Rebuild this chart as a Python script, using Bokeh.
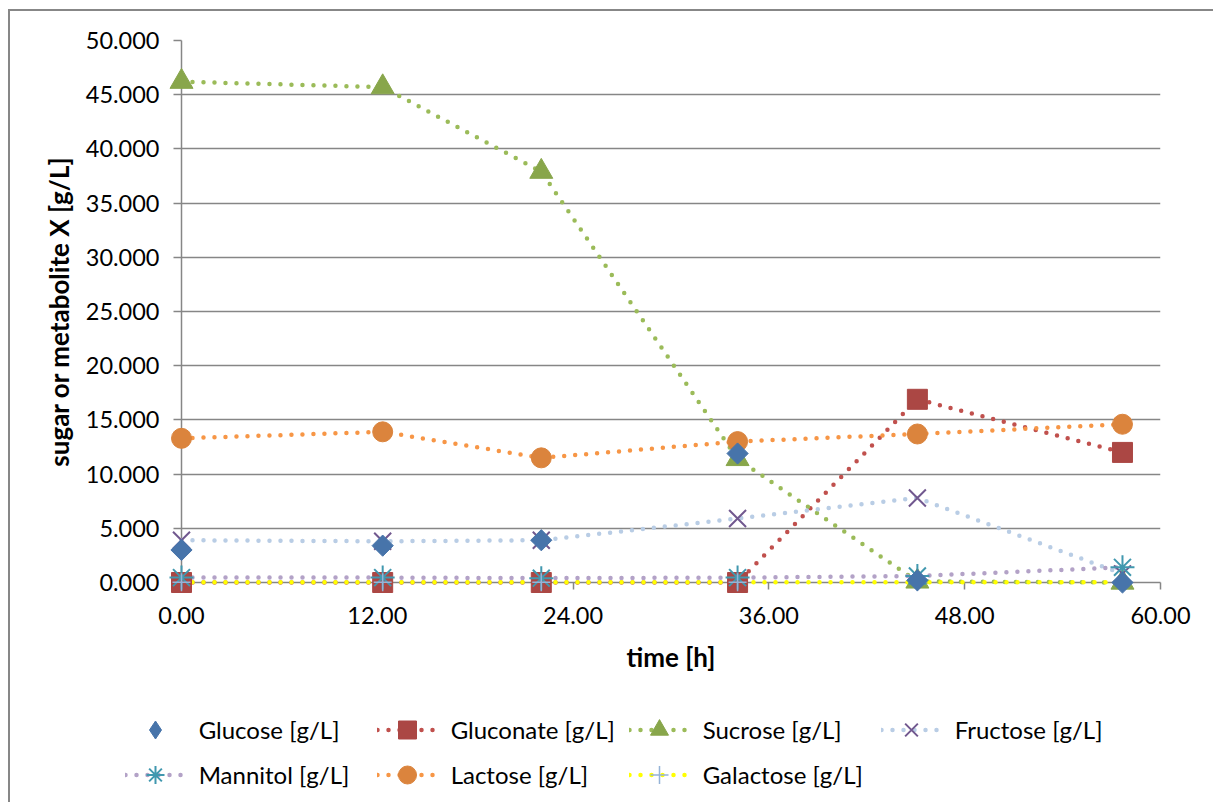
import math
from bokeh.plotting import figure
from bokeh.layouts import column
from bokeh.models import FixedTicker, NumeralTickFormatter, Legend, LegendItem, Range1d
from bokeh.embed import file_html
from bokeh.resources import INLINE

# ---- data ----
time_h = [0.0, 12.33, 22.05, 34.08, 45.1, 57.67]
glucose = [3.0, 3.4, 3.9, 11.9, 0.2, 0.0]
gluconate = [0.0, 0.0, 0.0, 0.0, 16.9, 12.0]
sucrose = [46.2, 45.7, 37.9, 11.4, 0.1, 0.0]
fructose = [3.9, 3.8, 3.9, 5.9, 7.8, 0.8]
mannitol = [0.45, 0.45, 0.4, 0.45, 0.6, 1.4]
lactose = [13.3, 13.9, 11.5, 13.0, 13.7, 14.6]
galactose = [0.02, 0.02, 0.02, 0.02, 0.02, 0.02]

x_ticks = [0, 12, 24, 36, 48, 60]
y_ticks = [0, 5, 10, 15, 20, 25, 30, 35, 40, 45, 50]

labels = ["Glucose [g/L]", "Gluconate [g/L]", "Sucrose [g/L]", "Fructose [g/L]",
          "Mannitol [g/L]", "Lactose [g/L]", "Galactose [g/L]"]

FONT = "Lato"
GRID = "#868686"

p = figure(frame_width=979, frame_height=542,
           min_border_left=171, min_border_top=29, min_border_right=53, min_border_bottom=108,
           x_range=Range1d(0, 60), y_range=Range1d(0, 50),
           output_backend="svg", toolbar_location=None)
p.outline_line_color = None
p.background_fill_color = "white"
p.border_fill_color = "white"

p.xaxis.ticker = FixedTicker(ticks=x_ticks)
p.yaxis.ticker = FixedTicker(ticks=y_ticks)
p.xaxis.formatter = NumeralTickFormatter(format="0.00")
p.yaxis.formatter = NumeralTickFormatter(format="0.000")
for ax in (p.xaxis, p.yaxis):
    ax.axis_line_color = GRID
    ax.axis_line_width = 1.5
    ax.major_tick_line_color = GRID
    ax.major_tick_line_width = 1.5
    ax.minor_tick_line_color = None
    ax.major_tick_in = 0
    ax.major_label_text_font = FONT
    ax.major_label_text_font_size = "23.5px"
    ax.major_label_text_color = "black"
    ax.axis_label_text_font = FONT
    ax.axis_label_text_font_style = "bold"
    ax.axis_label_text_font_size = "26px"
    ax.axis_label_text_color = "black"
p.xaxis.major_tick_out = 7
p.yaxis.major_tick_out = 8
p.xaxis.major_label_standoff = 17
p.yaxis.major_label_standoff = 14
p.xaxis.axis_label = "time [h]"
p.yaxis.axis_label = "sugar or metabolite X [g/L]"
p.xaxis.axis_label_standoff = 14
p.yaxis.axis_label_standoff = 8

p.xgrid.grid_line_color = None
p.ygrid.grid_line_color = GRID
p.ygrid.grid_line_width = 1.5

DOT = dict(line_width=4.5, line_dash="0 11", line_cap="round")

# series spec: (values, line colour or None, marker, marker colour, size, filled, marker line width, angle)
specs = [
    (glucose, None, "square", "#4774AA", 15, True, 1, math.pi / 4),
    (gluconate, "#C0504D", "square", "#AB4744", 20, True, 1, 0),
    (sucrose, "#9BBB59", "triangle", "#88A64B", 23, True, 1, 0),
    (fructose, "#B9CDE5", "x", "#71588F", 24, False, 2, 0),
    (mannitol, "#B3A2C7", "asterisk", "#4198AF", 24, False, 2, 0),
    (lactose, "#F79646", "circle", "#DB843D", 20, True, 1, 0),
    (galactose, "#FFFF00", "cross", "#95B3D7", 18, False, 1.5, 0),
]

for vals, lc, *_ in specs:
    if lc is not None:
        p.line(time_h, vals, line_color=lc, level="annotation", **DOT)

order = [1, 2, 3, 4, 5, 6, 0]  # glucose diamonds are drawn on top
for i in order:
    vals, lc, mk, mc, sz, filled, mlw, ang = specs[i]
    p.scatter(time_h, vals, marker=mk, size=sz, angle=ang,
              fill_color=mc if filled else None, line_color=mc,
              line_width=mlw, level="annotation")

# ---- legend strip below the chart: same series drawn outside its visible range ----
lg = figure(frame_width=1090, frame_height=90, min_border_left=113, min_border_right=0,
            min_border_top=17, min_border_bottom=5,
            x_range=Range1d(1000, 1001), y_range=Range1d(1000, 1001),
            x_axis_location=None, y_axis_location=None,
            output_backend="svg", toolbar_location=None)
lg.outline_line_color = None
lg.xgrid.grid_line_color = None
lg.ygrid.grid_line_color = None

items = []
for i, lab in enumerate(labels):
    vals, lc, mk, mc, sz, filled, mlw, ang = specs[i]
    if i == 0:
        mk, ang = "diamond", 0  # tall diamond in the legend
    rs = []
    if lc is not None:
        rs.append(lg.line(time_h, vals, line_color=lc, **DOT))
    rs.append(lg.scatter(time_h, vals, marker=mk, size=sz, angle=ang,
                         fill_color=mc if filled else None, line_color=mc, line_width=mlw))
    items.append(LegendItem(label=lab, renderers=rs))

legend = Legend(items=items, location=(77, 0), orientation="horizontal", ncols=4,
                glyph_width=60, glyph_height=45, label_standoff=14, label_width=178,
                spacing=0, padding=0, margin=0, border_line_color=None,
                background_fill_alpha=0, label_text_font=FONT, label_text_font_size="24px",
                label_text_color="black")
lg.add_layout(legend, "center")

layout = column(p, lg, spacing=0, margin=(9, 0, 0, 8),
                styles={"border-left": "2px solid #878787", "border-top": "2px solid #878787"})

open("out.html", "w").write(file_html(layout, INLINE))
